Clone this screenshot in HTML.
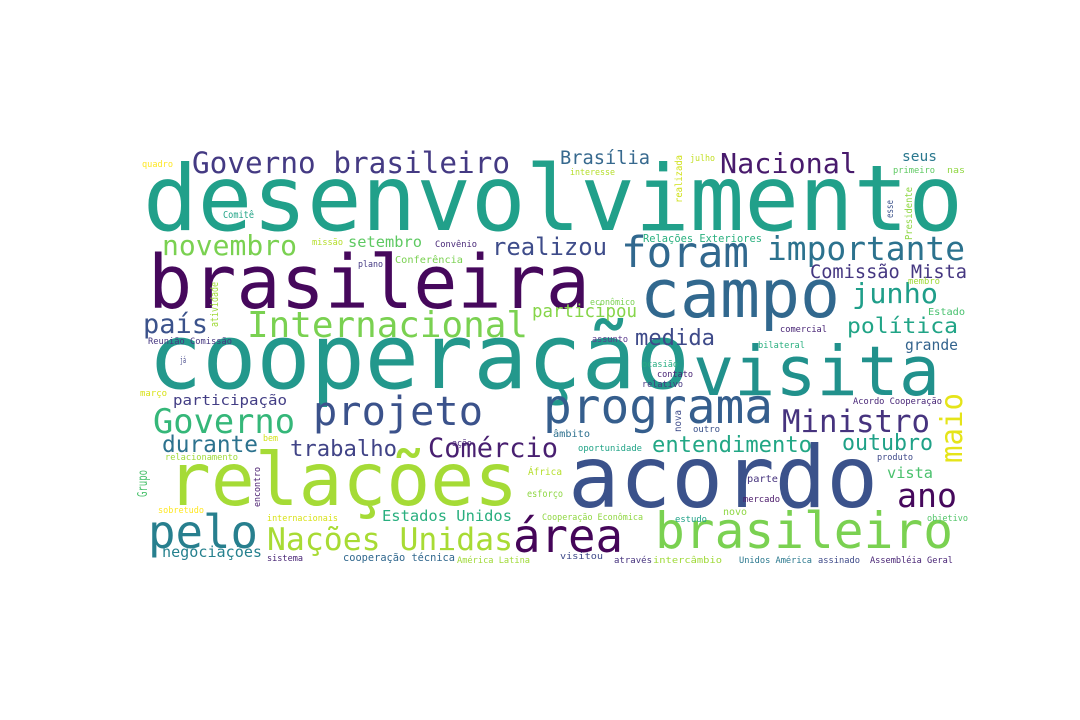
<!DOCTYPE html>
<html><head><meta charset="utf-8"><style>
html,body{margin:0;padding:0;background:#fff;}
svg{display:block;}
text{font-family:"DejaVu Sans Mono","Liberation Mono",monospace;}
</style></head><body>
<svg width="1080" height="720" viewBox="0 0 1080 720">
<rect width="1080" height="720" fill="#fff"/>
<g lengthAdjust="spacingAndGlyphs">
<text x="143" y="230" font-size="91" fill="#21a08a" textLength="820" lengthAdjust="spacingAndGlyphs">desenvolvimento</text>
<text x="148" y="308" font-size="74" fill="#46085c" textLength="442" lengthAdjust="spacingAndGlyphs">brasileira</text>
<text x="148" y="388" font-size="90" fill="#23988c" textLength="542" lengthAdjust="spacingAndGlyphs">cooperação</text>
<text x="167" y="505" font-size="73" fill="#a5db36" textLength="351" lengthAdjust="spacingAndGlyphs">relações</text>
<text x="568" y="507" font-size="86" fill="#3b528b" textLength="310" lengthAdjust="spacingAndGlyphs">acordo</text>
<text x="640" y="317" font-size="67" fill="#31688e" textLength="200" lengthAdjust="spacingAndGlyphs">campo</text>
<text x="693" y="395" font-size="69" fill="#21918c" textLength="247" lengthAdjust="spacingAndGlyphs">visita</text>
<text x="621" y="267" font-size="43" fill="#31688e" textLength="128" lengthAdjust="spacingAndGlyphs">foram</text>
<text x="767" y="260" font-size="33" fill="#2c728e" textLength="198" lengthAdjust="spacingAndGlyphs">importante</text>
<text x="192" y="173" font-size="29" fill="#443a83" textLength="318" lengthAdjust="spacingAndGlyphs">Governo brasileiro</text>
<text x="162" y="255" font-size="28" fill="#7ad151" textLength="135" lengthAdjust="spacingAndGlyphs">novembro</text>
<text x="720" y="173" font-size="28" fill="#481a6c" textLength="137" lengthAdjust="spacingAndGlyphs">Nacional</text>
<text x="560" y="164" font-size="19" fill="#37698e" textLength="90" lengthAdjust="spacingAndGlyphs">Brasília</text>
<text x="492" y="255" font-size="24" fill="#3e4c8a" textLength="115" lengthAdjust="spacingAndGlyphs">realizou</text>
<text x="247" y="337" font-size="36" fill="#7ad151" textLength="281" lengthAdjust="spacingAndGlyphs">Internacional</text>
<text x="143" y="333" font-size="27" fill="#3b528b" textLength="65" lengthAdjust="spacingAndGlyphs">país</text>
<text x="852" y="303" font-size="28" fill="#1f9e89" textLength="86" lengthAdjust="spacingAndGlyphs">junho</text>
<text x="847" y="333" font-size="21" fill="#20a486" textLength="111" lengthAdjust="spacingAndGlyphs">política</text>
<text x="635" y="345" font-size="22" fill="#3e4a89" textLength="80" lengthAdjust="spacingAndGlyphs">medida</text>
<text x="810" y="278" font-size="19" fill="#453781" textLength="157" lengthAdjust="spacingAndGlyphs">Comissão Mista</text>
<text x="532" y="317" font-size="17.5" fill="#86d549" textLength="105" lengthAdjust="spacingAndGlyphs">participou</text>
<text x="313" y="425" font-size="40" fill="#3b528b" textLength="170" lengthAdjust="spacingAndGlyphs">projeto</text>
<text x="543" y="423" font-size="48" fill="#355e8d" textLength="230" lengthAdjust="spacingAndGlyphs">programa</text>
<text x="153" y="433" font-size="34" fill="#35b779" textLength="142" lengthAdjust="spacingAndGlyphs">Governo</text>
<text x="162" y="452" font-size="23" fill="#2c728e" textLength="96" lengthAdjust="spacingAndGlyphs">durante</text>
<text x="290" y="456" font-size="22" fill="#414487" textLength="107" lengthAdjust="spacingAndGlyphs">trabalho</text>
<text x="428" y="457" font-size="27" fill="#481f70" textLength="130" lengthAdjust="spacingAndGlyphs">Comércio</text>
<text x="782" y="432" font-size="31" fill="#46337e" textLength="148" lengthAdjust="spacingAndGlyphs">Ministro</text>
<text x="652" y="452" font-size="22" fill="#22a785" textLength="160" lengthAdjust="spacingAndGlyphs">entendimento</text>
<text x="842" y="450" font-size="22" fill="#1fa187" textLength="91" lengthAdjust="spacingAndGlyphs">outubro</text>
<text x="897" y="507" font-size="33" fill="#46085c" textLength="60" lengthAdjust="spacingAndGlyphs">ano</text>
<text x="148" y="548" font-size="46" fill="#277f8e" textLength="110" lengthAdjust="spacingAndGlyphs">pelo</text>
<text x="267" y="550" font-size="31.5" fill="#a8db34" textLength="246" lengthAdjust="spacingAndGlyphs">Nações Unidas</text>
<text x="513" y="552" font-size="46" fill="#450559" textLength="110" lengthAdjust="spacingAndGlyphs">área</text>
<text x="655" y="548" font-size="50" fill="#7ad151" textLength="298" lengthAdjust="spacingAndGlyphs">brasileiro</text>
<text x="162" y="557" font-size="15" fill="#26818e" textLength="100" lengthAdjust="spacingAndGlyphs">negociações</text>
<text x="382" y="521" font-size="15.5" fill="#29af7f" textLength="130" lengthAdjust="spacingAndGlyphs">Estados Unidos</text>
<text x="173" y="405" font-size="14.6" fill="#433e85" textLength="114" lengthAdjust="spacingAndGlyphs">participação</text>
<text x="348" y="247" font-size="15.4" fill="#5ec962" textLength="74" lengthAdjust="spacingAndGlyphs">setembro</text>
<text x="902" y="161" font-size="14.6" fill="#2a788e" textLength="35" lengthAdjust="spacingAndGlyphs">seus</text>
<text x="905" y="350" font-size="14.7" fill="#33638d" textLength="53" lengthAdjust="spacingAndGlyphs">grande</text>
<text x="887" y="478" font-size="15.3" fill="#4ac16d" textLength="46" lengthAdjust="spacingAndGlyphs">vista</text>
<text x="643" y="242" font-size="10.4" fill="#2ab07f" textLength="119" lengthAdjust="spacingAndGlyphs">Relações Exteriores</text>
<text x="343" y="561" font-size="10.3" fill="#31688e" textLength="112" lengthAdjust="spacingAndGlyphs">cooperação técnica</text>
<text x="142" y="167" font-size="8.7" fill="#fde725" textLength="31" lengthAdjust="spacingAndGlyphs">quadro</text>
<text x="223" y="218" font-size="9.5" fill="#20a386" textLength="31" lengthAdjust="spacingAndGlyphs">Comitê</text>
<text x="312" y="245" font-size="8.7" fill="#b5de2b" textLength="31" lengthAdjust="spacingAndGlyphs">missão</text>
<text x="435" y="247" font-size="8.8" fill="#482878" textLength="42" lengthAdjust="spacingAndGlyphs">Convênio</text>
<text x="358" y="267" font-size="8.7" fill="#443983" textLength="25" lengthAdjust="spacingAndGlyphs">plano</text>
<text x="395" y="263" font-size="10" fill="#7ad151" textLength="68" lengthAdjust="spacingAndGlyphs">Conferência</text>
<text x="148" y="344" font-size="8.7" fill="#453781" textLength="84" lengthAdjust="spacingAndGlyphs">Reunião Comissão</text>
<text x="180" y="363" font-size="8.7" fill="#414487" textLength="6" lengthAdjust="spacingAndGlyphs">já</text>
<text x="570" y="175" font-size="8.7" fill="#b5de2b" textLength="45" lengthAdjust="spacingAndGlyphs">interesse</text>
<text x="690" y="161" font-size="8.7" fill="#c2df23" textLength="25" lengthAdjust="spacingAndGlyphs">julho</text>
<text x="893" y="173" font-size="8.8" fill="#5ec962" textLength="42" lengthAdjust="spacingAndGlyphs">primeiro</text>
<text x="947" y="173" font-size="8.8" fill="#90d743" textLength="18" lengthAdjust="spacingAndGlyphs">nas</text>
<text x="908" y="284" font-size="8.8" fill="#a0da39" textLength="32" lengthAdjust="spacingAndGlyphs">membro</text>
<text x="590" y="305" font-size="8.8" fill="#7ad151" textLength="45" lengthAdjust="spacingAndGlyphs">econômico</text>
<text x="928" y="315" font-size="10" fill="#48c16e" textLength="37" lengthAdjust="spacingAndGlyphs">Estado</text>
<text x="592" y="342" font-size="8.8" fill="#5d3c8f" textLength="36" lengthAdjust="spacingAndGlyphs">assunto</text>
<text x="780" y="332" font-size="8.8" fill="#482475" textLength="47" lengthAdjust="spacingAndGlyphs">comercial</text>
<text x="758" y="348" font-size="8.8" fill="#29af7f" textLength="47" lengthAdjust="spacingAndGlyphs">bilateral</text>
<text x="642" y="367" font-size="8.8" fill="#26ad81" textLength="36" lengthAdjust="spacingAndGlyphs">ocasião</text>
<text x="140" y="396" font-size="8.8" fill="#d8e219" textLength="27" lengthAdjust="spacingAndGlyphs">março</text>
<text x="263" y="441" font-size="8.8" fill="#d2e21b" textLength="15" lengthAdjust="spacingAndGlyphs">bem</text>
<text x="452" y="446" font-size="8.8" fill="#482677" textLength="20" lengthAdjust="spacingAndGlyphs">ação</text>
<text x="165" y="460" font-size="8.7" fill="#a0da39" textLength="73" lengthAdjust="spacingAndGlyphs">relacionamento</text>
<text x="528" y="475" font-size="10" fill="#b5de2b" textLength="34" lengthAdjust="spacingAndGlyphs">África</text>
<text x="527" y="497" font-size="9.5" fill="#8fd744" textLength="36" lengthAdjust="spacingAndGlyphs">esforço</text>
<text x="158" y="513" font-size="8.8" fill="#fde725" textLength="46" lengthAdjust="spacingAndGlyphs">sobretudo</text>
<text x="267" y="521" font-size="8.8" fill="#d8e219" textLength="71" lengthAdjust="spacingAndGlyphs">internacionais</text>
<text x="542" y="520" font-size="8.6" fill="#90d743" textLength="101" lengthAdjust="spacingAndGlyphs">Cooperação Econômica</text>
<text x="267" y="561" font-size="8.8" fill="#482475" textLength="36" lengthAdjust="spacingAndGlyphs">sistema</text>
<text x="457" y="563" font-size="8.7" fill="#a0da39" textLength="73" lengthAdjust="spacingAndGlyphs">América Latina</text>
<text x="657" y="377" font-size="8.8" fill="#482475" textLength="36" lengthAdjust="spacingAndGlyphs">contato</text>
<text x="642" y="387" font-size="8.8" fill="#453781" textLength="41" lengthAdjust="spacingAndGlyphs">relativo</text>
<text x="853" y="404" font-size="8.7" fill="#482677" textLength="89" lengthAdjust="spacingAndGlyphs">Acordo Cooperação</text>
<text x="693" y="432" font-size="8.8" fill="#3b528b" textLength="27" lengthAdjust="spacingAndGlyphs">outro</text>
<text x="553" y="437" font-size="9.5" fill="#2d708e" textLength="37" lengthAdjust="spacingAndGlyphs">âmbito</text>
<text x="578" y="451" font-size="8.8" fill="#20a386" textLength="64" lengthAdjust="spacingAndGlyphs">oportunidade</text>
<text x="877" y="460" font-size="8.8" fill="#3e4989" textLength="36" lengthAdjust="spacingAndGlyphs">produto</text>
<text x="747" y="482" font-size="9.5" fill="#46337e" textLength="31" lengthAdjust="spacingAndGlyphs">parte</text>
<text x="743" y="502" font-size="8.8" fill="#481668" textLength="37" lengthAdjust="spacingAndGlyphs">mercado</text>
<text x="723" y="515" font-size="9.5" fill="#8fd744" textLength="24" lengthAdjust="spacingAndGlyphs">novo</text>
<text x="675" y="522" font-size="8.8" fill="#1fa187" textLength="32" lengthAdjust="spacingAndGlyphs">estudo</text>
<text x="927" y="521" font-size="8.8" fill="#52c569" textLength="41" lengthAdjust="spacingAndGlyphs">objetivo</text>
<text x="560" y="559" font-size="8.8" fill="#3e4a89" textLength="43" lengthAdjust="spacingAndGlyphs">visitou</text>
<text x="614" y="563" font-size="8.8" fill="#46337e" textLength="38" lengthAdjust="spacingAndGlyphs">através</text>
<text x="653" y="563" font-size="8.8" fill="#a0da39" textLength="69" lengthAdjust="spacingAndGlyphs">intercâmbio</text>
<text x="739" y="563" font-size="8.8" fill="#2a788e" textLength="73" lengthAdjust="spacingAndGlyphs">Unidos América</text>
<text x="818" y="563" font-size="8.8" fill="#3e4a89" textLength="42" lengthAdjust="spacingAndGlyphs">assinado</text>
<text x="870" y="563" font-size="8.8" fill="#482475" textLength="83" lengthAdjust="spacingAndGlyphs">Assembléia Geral</text>
<!-- vertical words -->
<text transform="translate(218,327) rotate(-90)" x="0" y="0" font-size="10.5" fill="#a0da39" textLength="45" lengthAdjust="spacingAndGlyphs">atividade</text>
<text transform="translate(682,203) rotate(-90)" x="0" y="0" font-size="10" fill="#d0e11c" textLength="48" lengthAdjust="spacingAndGlyphs">realizada</text>
<text transform="translate(893,218) rotate(-90)" x="0" y="0" font-size="9.5" fill="#3b528b" textLength="18" lengthAdjust="spacingAndGlyphs">esse</text>
<text transform="translate(912,240) rotate(-90)" x="0" y="0" font-size="9.5" fill="#8fd744" textLength="53" lengthAdjust="spacingAndGlyphs">Presidente</text>
<text transform="translate(147,497) rotate(-90)" x="0" y="0" font-size="13" fill="#4ac16d" textLength="27" lengthAdjust="spacingAndGlyphs">Grupo</text>
<text transform="translate(260,507) rotate(-90)" x="0" y="0" font-size="9" fill="#481c6e" textLength="40" lengthAdjust="spacingAndGlyphs">encontro</text>
<text transform="translate(681,432) rotate(-90)" x="0" y="0" font-size="9.5" fill="#3e4c8a" textLength="22" lengthAdjust="spacingAndGlyphs">nova</text>
<text transform="translate(962,463) rotate(-90)" x="0" y="0" font-size="30" fill="#e5e419" textLength="70" lengthAdjust="spacingAndGlyphs">maio</text>
</g>
</svg>
</body></html>
